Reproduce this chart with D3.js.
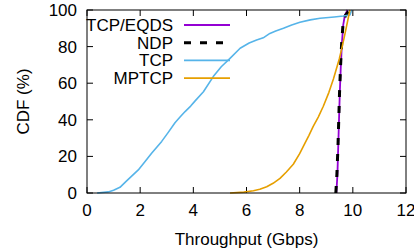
<!DOCTYPE html>
<html>
<head>
<meta charset="utf-8">
<script src="https://cdn.jsdelivr.net/npm/d3@7"></script>
<style>
  body { margin: 0; background: #fff; }
  text { font-family: "Liberation Sans", Arial, sans-serif; fill: #000; }
</style>
</head>
<body>
<div id="chart"></div>
<script>
// CDF of throughput
const xTicks = [0, 2, 4, 6, 8, 10, 12];
const yTicks = [0, 20, 40, 60, 80, 100];

const seriesNames = ["TCP/EQDS", "NDP", "TCP", "MPTCP"];

// [throughput Gbps, CDF %]
const eqdsData = [[9.38, 0], [9.42, 10], [9.45, 25], [9.48, 40], [9.51, 55], [9.55, 70], [9.59, 82], [9.64, 92], [9.7, 97], [9.8, 100]];
const ndpData = [[9.36, 0], [9.4, 10], [9.44, 25], [9.47, 40], [9.5, 55], [9.54, 70], [9.58, 82], [9.63, 92], [9.72, 97], [9.88, 100]];
const tcpData = [[0.38, 0], [0.8, 0.6], [1.0, 1.5], [1.24, 3.1], [1.49, 6.6], [1.7, 9.5], [1.93, 12.6], [2.2, 17.5],
  [2.43, 21.7], [2.81, 28.2], [3.05, 33], [3.31, 38.4], [3.5, 41.5], [3.69, 44.5], [3.9, 47.5], [4.06, 50.2],
  [4.38, 55.3], [4.75, 63.6], [5.05, 69], [5.38, 73.6], [5.76, 79.1], [6.1, 82], [6.38, 83.6], [6.63, 84.8],
  [6.88, 87.2], [7.1, 88.5], [7.39, 90], [7.7, 91.8], [8.01, 93.3], [8.4, 94.6], [8.77, 95.5],
  [9.3, 96.2], [9.64, 96.7], [9.89, 97.3], [9.96, 100]];
const mptcpData = [[5.38, 0], [5.9, 0.5], [6.26, 1.2], [6.5, 2], [6.76, 3.4], [7.0, 5.3], [7.26, 8.0], [7.5, 11.5],
  [7.76, 15.7], [8.0, 21.5], [8.2, 27.3], [8.35, 31.5], [8.51, 36.4], [8.7, 41.5], [8.89, 47.4], [9.1, 55],
  [9.27, 62.3], [9.49, 73.2], [9.6, 80], [9.71, 87.4], [9.89, 100]];

const w = 414, h = 252;
const m = { left: 87, right: 8, top: 10, bottom: 59 };

const svg = d3.select("#chart").append("svg")
  .attr("width", w)
  .attr("height", h);

const x = d3.scaleLinear().domain([0, 12]).range([m.left, w - m.right]);
const y = d3.scaleLinear().domain([0, 100]).range([h - m.bottom, m.top]);

const tick = 6;
const axes = svg.append("g").attr("stroke", "#000").attr("stroke-width", 1);

// inward ticks on all four sides
xTicks.forEach((t) => {
  axes.append("line").attr("x1", x(t)).attr("x2", x(t)).attr("y1", y(0)).attr("y2", y(0) - tick);
  axes.append("line").attr("x1", x(t)).attr("x2", x(t)).attr("y1", y(100)).attr("y2", y(100) + tick);
});
yTicks.forEach((t) => {
  axes.append("line").attr("x1", x(0)).attr("x2", x(0) + tick).attr("y1", y(t)).attr("y2", y(t));
  axes.append("line").attr("x1", x(12)).attr("x2", x(12) - tick).attr("y1", y(t)).attr("y2", y(t));
});

svg.selectAll(".xlab")
  .data(xTicks)
  .enter()
  .append("text")
  .attr("class", "xlab")
  .attr("x", (d) => x(d))
  .attr("y", y(0) + 23)
  .attr("text-anchor", "middle")
  .attr("font-size", 17)
  .text((d) => d);

svg.selectAll(".ylab")
  .data(yTicks)
  .enter()
  .append("text")
  .attr("class", "ylab")
  .attr("x", x(0) - 10)
  .attr("y", (d) => y(d) + 6)
  .attr("text-anchor", "end")
  .attr("font-size", 17)
  .text((d) => d);

svg.append("text")
  .attr("x", (x(0) + x(12)) / 2)
  .attr("y", 245)
  .attr("text-anchor", "middle")
  .attr("font-size", 17)
  .text("Throughput (Gbps)");

svg.append("text")
  .attr("transform", `translate(29, ${(y(0) + y(100)) / 2}) rotate(-90)`)
  .attr("text-anchor", "middle")
  .attr("font-size", 17)
  .text("CDF (%)");

const line = d3.line()
  .x((d) => x(d[0]))
  .y((d) => y(d[1]));

const styles = [
  { data: eqdsData, color: "#9400d3", width: 1.8, dash: null },
  { data: ndpData, color: "#000", width: 3, dash: "7,9" },
  { data: tcpData, color: "#56b4e9", width: 1.6, dash: null },
  { data: mptcpData, color: "#e69f00", width: 1.6, dash: null }
];

const plot = svg.append("g");
styles.forEach((s) => {
  plot.append("path")
    .datum(s.data)
    .attr("d", line)
    .attr("fill", "none")
    .attr("stroke", s.color)
    .attr("stroke-width", s.width)
    .attr("stroke-linejoin", "round")
    .attr("stroke-dasharray", s.dash);
});

// legend
const legend = svg.append("g").attr("id", "legend");
seriesNames.forEach((name, i) => {
  const ly = 25 + i * 17.7;
  legend.append("text")
    .attr("x", 173)
    .attr("y", ly + 6)
    .attr("text-anchor", "end")
    .attr("font-size", 17)
    .text(name);
  legend.append("line")
    .attr("x1", 184)
    .attr("x2", 230)
    .attr("y1", ly)
    .attr("y2", ly)
    .attr("stroke", styles[i].color)
    .attr("stroke-width", styles[i].width)
    .attr("stroke-dasharray", styles[i].dash);
});

// frame on top
svg.append("rect")
  .attr("x", x(0))
  .attr("y", y(100))
  .attr("width", x(12) - x(0))
  .attr("height", y(0) - y(100))
  .attr("fill", "none")
  .attr("stroke", "#000")
  .attr("stroke-width", 1);
</script>
</body>
</html>
